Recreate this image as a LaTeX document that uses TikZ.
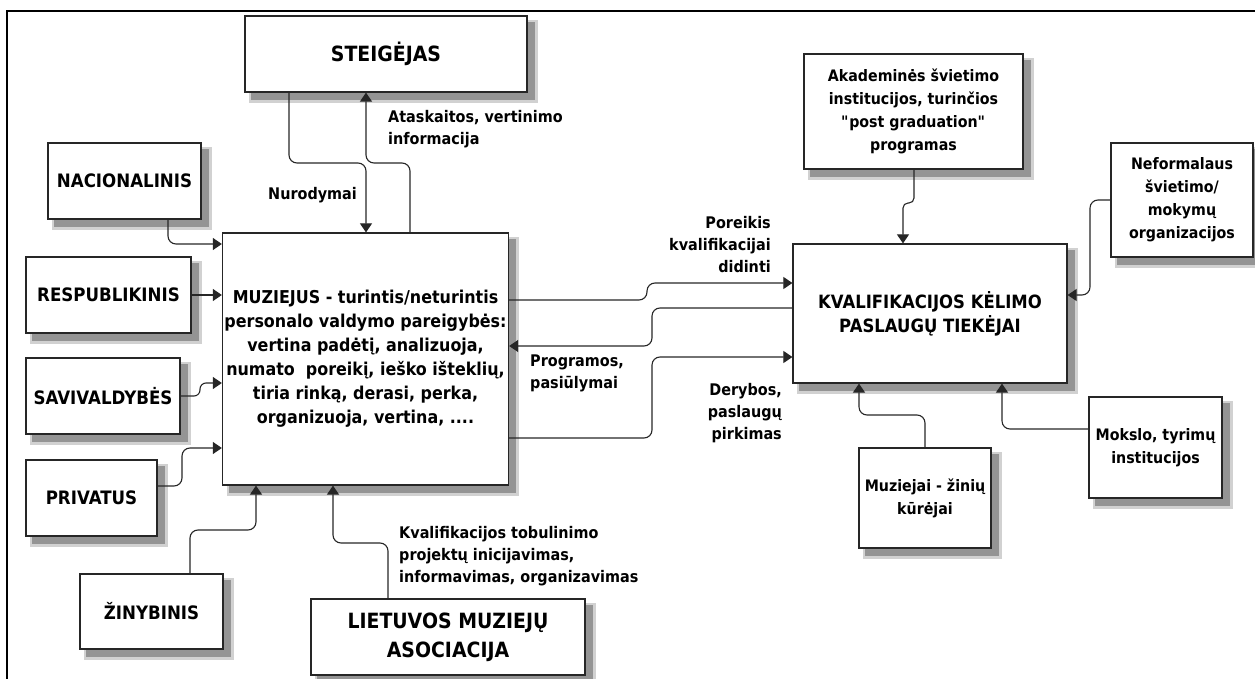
\documentclass[tikz,border=0pt]{standalone}
\usepackage{fontspec}
\setmainfont{DejaVu Sans}[FakeStretch=0.9]
\usetikzlibrary{arrows.meta,positioning}
\pgfdeclarelayer{background}
\pgfsetlayers{background,main}
\newcommand{\titlefont}{\bfseries\fontsize{21}{29}\selectfont}
\newcommand{\boxfont}{\bfseries\fontsize{18.5}{23}\selectfont}
\newcommand{\smallboxfont}{\bfseries\fontsize{15.8}{23}\selectfont}
\newcommand{\mainfont}{\bfseries\fontsize{17.7}{24}\selectfont}
\newcommand{\labelfont}{\bfseries\fontsize{16}{22}\selectfont}
\tikzstyle{unitbox}=[%
	draw=black!85,
	line width=1.2pt,
	fill=white,
	align=center,
	inner sep=2pt,
	font=\boxfont,
	]
\tikzstyle{boxshadow}=[fill=black!42]
\tikzstyle{boxshadowsoft}=[fill=black!18]
\tikzstyle{lbl}=[font=\labelfont, inner sep=0pt]
\tikzstyle{conn}=[line width=1.1pt, draw=black!85, rounded corners=8pt]
\tikzstyle{arr}=[conn, -{Triangle[length=9pt,width=12pt]}]
\newcommand{\castshadow}[1]{%
  \fill[boxshadowsoft] ([shift={(5pt,-5pt)}]#1.north west) rectangle ([shift={(10pt,-10pt)}]#1.south east);
  \fill[boxshadow] ([shift={(7pt,-7pt)}]#1.north west) rectangle ([shift={(7pt,-7pt)}]#1.south east);}
\begin{document}
\begin{tikzpicture}[x=1pt,y=-1pt]%
  \useasboundingbox (0,0) rectangle (1255,679);
  \draw[line width=2pt] (7,679) -- (7,11) -- (1255,11);% frame

  % left side
  \node[unitbox, font=\titlefont, minimum width=282pt, minimum height=76pt] (st) at (386,54) {STEIGĖJAS};
  \node[unitbox, minimum width=153pt, minimum height=76pt] (nac) at (124.5,181) {NACIONALINIS};
  \node[unitbox, minimum width=165pt, minimum height=76pt] (resp) at (108.5,295) {RESPUBLIKINIS};
  \node[unitbox, minimum width=154pt, minimum height=76pt] (sav) at (103,396) {SAVIVALDYBĖS};
  \node[unitbox, minimum width=131pt, minimum height=76pt] (priv) at (91.5,498) {PRIVATUS};
  \node[unitbox, minimum width=143pt, minimum height=75pt] (zin) at (151.5,611.5) {ŽINYBINIS};
  \node[unitbox, font=\titlefont, minimum width=274pt, minimum height=76pt] (lma) at (448,637) {LIETUVOS MUZIEJŲ\\ASOCIACIJA};
  \node[unitbox, font=\mainfont, minimum width=285pt, minimum height=252pt] (muz) at (365.5,359)
    {MUZIEJUS - turintis/neturintis\\personalo valdymo pareigybės:\\vertina padėtį, analizuoja,\\numato~~poreikį, ieško išteklių,\\tiria rinką, derasi, perka,\\organizuoja, vertina, ....};

  % right side
  \node[unitbox, font=\bfseries\fontsize{18.3}{24}\selectfont, minimum width=274pt, minimum height=139pt] (kv) at (930,313.5) {KVALIFIKACIJOS KĖLIMO\\PASLAUGŲ TIEKĖJAI};
  \node[unitbox, font=\smallboxfont, minimum width=219pt, minimum height=115pt] (akad) at (913.5,111.5) {Akademinės švietimo\\institucijos, turinčios\\\textquotedbl post graduation\textquotedbl\\programas};
  \node[unitbox, font=\smallboxfont, minimum width=142pt, minimum height=114pt] (nef) at (1182,200) {Neformalaus\\švietimo/\\mokymų\\organizacijos};
  \node[unitbox, font=\smallboxfont, minimum width=132pt, minimum height=100pt] (mzk) at (925,498) {Muziejai - žinių\\kūrėjai};
  \node[unitbox, font=\smallboxfont, minimum width=133pt, minimum height=101pt] (mok) at (1155.5,447.5) {Mokslo, tyrimų\\institucijos};

  \begin{pgfonlayer}{background}
    \castshadow{st}\castshadow{nac}\castshadow{resp}\castshadow{sav}\castshadow{priv}
    \castshadow{zin}\castshadow{lma}\castshadow{muz}\castshadow{kv}\castshadow{akad}
    \castshadow{nef}\castshadow{mzk}\castshadow{mok}
  \end{pgfonlayer}

  \draw[arr] (st.south -| 289,0) |- (366,163) -- (muz.north -| 366,0);
  \draw[arr] (muz.north -| 410,0) |- (366,163) -- (st.south -| 366,0);
  \draw[arr] (nac.south -| 168,0) |- (muz.west |- 0,244);
  \draw[arr] (resp.east) -- (muz.west |- resp.east);
  \draw[arr, rounded corners=6pt] (sav.east) -| (200,383) -- (muz.west |- 0,383);
  \draw[arr] (priv.east |- 0,486) -| (182,448) -- (muz.west |- 0,448);
  \draw[arr] (zin.north -| 190,0) |- (256,530) -- (muz.south -| 256,0);
  \draw[arr] (lma.north -| 388,0) |- (333,543) -- (muz.south -| 333,0);

  \draw[arr] (muz.east |- 0,300) -| (647,283) -- (kv.west |- 0,283);
  \draw[arr] (kv.west |- 0,308) -| (652,346) -- (muz.east |- 0,346);
  \draw[arr] (muz.east |- 0,438) -| (652,357) -- (kv.west |- 0,357);
  \draw[arr, rounded corners=5pt] (akad.south -| 914,0) |- (903,203) -- (kv.north -| 903,0);
  \draw[arr] (nef.west |- 0,200) -| (1090,295) -- (kv.east |- 0,295);
  \draw[arr] (mzk.north) |- (859,415) -- (kv.south -| 859,0);
  \draw[arr] (mok.west |- 0,429) -| (kv.south -| 1002,0);

  % labels
  \node[lbl, anchor=west] (nurod) at (268,195) {Nurodymai};
  \node[lbl, anchor=west, align=left] (atask) at (388,129) {Ataskaitos, vertinimo\\informacija};
  \node[lbl, anchor=east, align=right] (poreik) at (771,245) {Poreikis\\kvalifikacijai\\didinti};
  \node[lbl, anchor=west, align=left] (progr) at (530,373) {Programos,\\pasiūlymai};
  \node[lbl, anchor=east, align=right] (deryb) at (782,413) {Derybos,\\paslaugų\\pirkimas};
  \node[lbl, anchor=west, align=left] (tobul) at (399,556) {Kvalifikacijos tobulinimo\\projektų inicijavimas,\\informavimas, organizavimas};
\end{tikzpicture}
\end{document}
